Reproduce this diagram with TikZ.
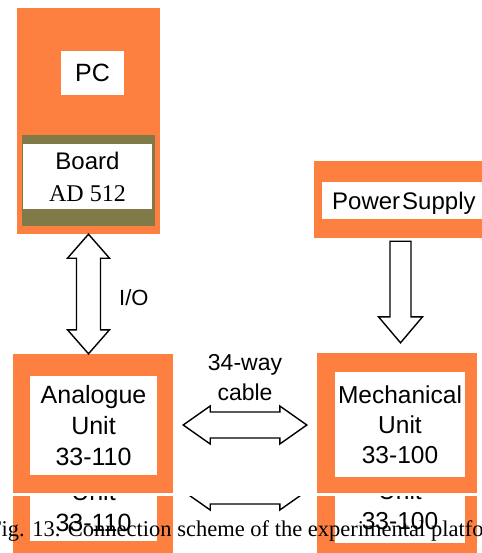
\documentclass[tikz,border=0pt]{standalone}
\usepackage{fontspec}
\setmainfont{Liberation Sans}
\newfontfamily\timesfont{Liberation Serif}
\usetikzlibrary{calc}
\definecolor{unitorange}{RGB}{253,128,64}
\definecolor{boardolive}{RGB}{128,121,72}

\begin{document}
\begin{tikzpicture}[x=1pt,y=-1pt,unitframe/.style={fill=unitorange, inner sep=0pt},whitebox/.style={fill=white, inner sep=0pt, align=center, font=\fontsize{25}{31}\selectfont},fatarrow/.style={draw=black, fill=white, line width=1.4pt, line join=miter},note/.style={inner sep=0pt, align=center, font=\fontsize{23}{30}\selectfont}]
\useasboundingbox (0,0) rectangle (481,553);
% PC with board
\node[unitframe, minimum width=143, minimum height=226] (pcbox) at (88.5,121) {};
\node[whitebox, minimum width=63, minimum height=44] (pclabel) at (92.5,73) {PC};
\node[fill=boardolive, inner sep=0pt, minimum width=133, minimum height=91] (boardband) at (88.5,180.5) {};
\node[whitebox, minimum width=129, minimum height=65, font=\fontsize{24}{32}\selectfont] (boardlabel) at (87.5,176.5) {Board\\{\timesfont AD 512}};
% power supply
\node[unitframe, minimum width=176, minimum height=77] (psbox) at (402,199.5) {};
\node[whitebox, anchor=west, inner xsep=10, text width=160, align=left, minimum height=37, text depth=0pt, font=\fontsize{24}{28}\selectfont] (pslabel) at (322,200.5) {Power\hspace{2pt}Supply};
% units
\node[unitframe, minimum width=160, minimum height=139] (anabox) at (93,423.5) {};
\node[whitebox, minimum width=127, minimum height=99] (analabel) at (93.5,425.5) {Analogue\\Unit\\33-110};
\node[unitframe, minimum width=160, minimum height=140] (mechbox) at (397,423) {};
\node[whitebox, minimum width=130, minimum height=105, font=\fontsize{24.5}{30}\selectfont] (mechlabel) at (400,424.5) {Mechanical\\Unit\\33-100};
% connectors
\coordinate (iotop) at (pcbox.south); \coordinate (iobot) at (pcbox.south |- anabox.north);
\draw[fatarrow] (iotop) -- ($(iotop)+(21,24)$) -- ($(iotop)+(12,24)$) -- ($(iobot)+(12,-24)$) -- ($(iobot)+(21,-24)$) -- (iobot) -- ($(iobot)+(-21,-24)$) -- ($(iobot)+(-12,-24)$) -- ($(iotop)+(-12,24)$) -- ($(iotop)+(-21,24)$) -- cycle;
\node[note, anchor=base west, font=\fontsize{22}{26}\selectfont] (iolabel) at (119,305) {I/O};
\coordinate (cableft) at ($(anabox.east)+(10,1.5)$); \coordinate (cabright) at ($(cableft -| mechbox.west)+(-10,0)$);
\draw[fatarrow] (cableft) -- ($(cableft)+(27,-19)$) -- ($(cableft)+(27,-13)$) -- ($(cabright)+(-27,-13)$) -- ($(cabright)+(-27,-19)$) -- (cabright) -- ($(cabright)+(-27,19)$) -- ($(cabright)+(-27,13)$) -- ($(cableft)+(27,13)$) -- ($(cableft)+(27,19)$) -- cycle;
\node[note, anchor=base] (cablelabel) at (245,400) {34-way\\cable};
\coordinate (pstop) at ($(psbox.south)+(-1.5,3)$); \coordinate (pstip) at ($(pstop |- mechbox.north)+(0,-10)$);
\draw[fatarrow] ($(pstop)+(-10.5,0)$) -- ($(pstop)+(10.5,0)$) -- ($(pstip)+(10.5,-26)$) -- ($(pstip)+(22,-26)$) -- (pstip) -- ($(pstip)+(-22,-26)$) -- ($(pstip)+(-10.5,-26)$) -- cycle;
% repeated strip under the figure
\begin{scope}
\clip (0,496) rectangle (481,553);
\begin{scope}[shift={(0,66)}]
\node[unitframe, minimum width=160, minimum height=139] (anaboxb) at (93,423.5) {};
\node[whitebox, minimum width=127, minimum height=99] (analabelb) at (93.5,425.5) {Analogue\\Unit\\33-110};
\node[unitframe, minimum width=160, minimum height=140] (mechboxb) at (397,423) {};
\node[whitebox, minimum width=130, minimum height=105, font=\fontsize{24.5}{30}\selectfont] (mechlabelb) at (400,424.5) {Mechanical\\Unit\\33-100};
\coordinate (cableftb) at ($(anaboxb.east)+(10,1.5)$); \coordinate (cabrightb) at ($(cableftb -| mechboxb.west)+(-10,0)$);
\draw[fatarrow] (cableftb) -- ($(cableftb)+(27,-19)$) -- ($(cableftb)+(27,-13)$) -- ($(cabrightb)+(-27,-13)$) -- ($(cabrightb)+(-27,-19)$) -- (cabrightb) -- ($(cabrightb)+(-27,19)$) -- ($(cabrightb)+(-27,13)$) -- ($(cableftb)+(27,13)$) -- ($(cableftb)+(27,19)$) -- cycle;
\end{scope}
\end{scope}
\node[anchor=base west, inner sep=0pt, font=\timesfont\fontsize{22.5}{27}\selectfont] (caption) at (-11,536) {Fig. 13. Connection scheme of the experimental platform};
\end{tikzpicture}
\end{document}
